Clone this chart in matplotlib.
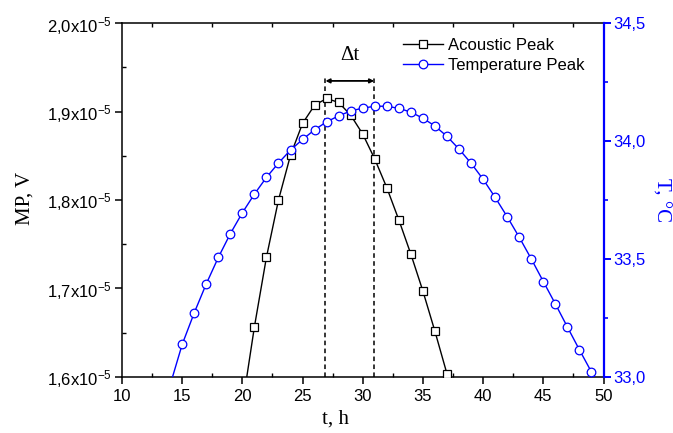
import matplotlib
matplotlib.use("Agg")
import matplotlib.pyplot as plt
from matplotlib.ticker import MultipleLocator, FuncFormatter

plt.rcParams['font.family'] = ['Liberation Sans', 'DejaVu Sans']
plt.rcParams['mathtext.fontset'] = 'custom'
plt.rcParams['mathtext.rm'] = 'Liberation Sans'
plt.rcParams['mathtext.it'] = 'Liberation Sans:italic'

# ---- data ----
acoustic_t = [20, 21, 22, 23, 24, 25, 26, 27, 28, 29, 30, 31, 32, 33, 34, 35, 36, 37]
acoustic_mp = [1.567e-5, 1.6565e-5, 1.7353e-5, 1.800e-5, 1.8508e-5, 1.8867e-5, 1.9073e-5,
               1.9149e-5, 1.9104e-5, 1.896e-5, 1.8746e-5, 1.8463e-5, 1.8139e-5, 1.7774e-5,
               1.7386e-5, 1.6968e-5, 1.6512e-5, 1.6031e-5]

temp_t = [14, 15, 16, 17, 18, 19, 20, 21, 22, 23, 24, 25, 26, 27, 28, 29, 30, 31, 32,
          33, 34, 35, 36, 37, 38, 39, 40, 41, 42, 43, 44, 45, 46, 47, 48, 49, 50]
temp_c = [32.965, 33.137, 33.271, 33.394, 33.506, 33.607, 33.696, 33.775, 33.846, 33.907,
          33.962, 34.007, 34.048, 34.082, 34.107, 34.128, 34.140, 34.148, 34.148, 34.139,
          34.123, 34.097, 34.064, 34.020, 33.966, 33.906, 33.838, 33.761, 33.679, 33.592,
          33.500, 33.404, 33.309, 33.211, 33.114, 33.020, 32.92]

delta_t_start = 26.9
delta_t_end = 30.95
delta_top = 1.940e-5
arrow_y = 1.9348e-5

series_labels = ["Acoustic Peak", "Temperature Peak"]
x_label = "t, h"
y_label = "MP, V"
y2_label = "T, °C"
delta_label = "Δt"

BLUE = "#0000ff"

fig = plt.figure(figsize=(6.73, 4.33), dpi=100)
ax = fig.add_axes([122/673, 1 - 376.7/433, (603.5 - 122)/673, (376.7 - 23.3)/433])
ax2 = ax.twinx()

l1, = ax.plot(acoustic_t, acoustic_mp, color='black', lw=1.0, marker='s', ms=5.2,
              mfc='white', mec='black', mew=0.9, zorder=3)
l2, = ax2.plot(temp_t, temp_c, color=BLUE, lw=1.0, marker='o', ms=6.2,
               mfc='white', mec=BLUE, mew=0.9, zorder=3)

ax.set_xlim(10, 50)
ax.set_ylim(1.6e-5, 2.0e-5)
ax2.set_ylim(33.0, 34.5)

# delta t annotation
for xv in (delta_t_start, delta_t_end):
    ax.plot([xv, xv], [1.6e-5, delta_top], ls=(0, (3, 2.2)), color='black', lw=1.1, zorder=2)
ax.annotate('', xy=(delta_t_start, arrow_y), xytext=(delta_t_end, arrow_y),
            arrowprops=dict(arrowstyle='<|-|>', color='black', lw=1.3,
                            mutation_scale=6, shrinkA=0, shrinkB=0))
ax.text((delta_t_start + delta_t_end) / 2, 1.9635e-5, delta_label, ha='center', va='center',
        fontsize=15, family='Liberation Serif')

# ticks
ax.xaxis.set_major_locator(MultipleLocator(5))
ax.xaxis.set_minor_locator(MultipleLocator(2.5))
ax.yaxis.set_major_locator(MultipleLocator(0.1e-5))
ax.yaxis.set_minor_locator(MultipleLocator(0.05e-5))
ax2.yaxis.set_major_locator(MultipleLocator(0.5))
ax2.yaxis.set_minor_locator(MultipleLocator(0.25))

def fmt_left(v, pos):
    s = f"{v*1e5:.1f}".replace('.', ',')
    return s + r'x10$^{\mathregular{-5}}$'

ax.yaxis.set_major_formatter(FuncFormatter(fmt_left))
ax2.yaxis.set_major_formatter(FuncFormatter(lambda v, p: f"{v:.1f}".replace('.', ',')))
ax.xaxis.set_major_formatter(FuncFormatter(lambda v, p: f"{v:.0f}"))

ax.tick_params(axis='both', which='major', direction='out', length=5, width=1.1,
               labelsize=12, pad=2)
ax.tick_params(axis='both', which='minor', direction='in', length=3, width=1.0)
ax.tick_params(axis='x', which='minor', top=True)
ax.tick_params(axis='x', which='major', pad=4)
ax2.tick_params(axis='y', which='major', direction='out', length=5, width=1.4,
                colors=BLUE, labelsize=12, pad=2)
ax2.tick_params(axis='y', which='minor', direction='out', length=3, width=1.2, colors=BLUE)

for s in ('left', 'bottom', 'top'):
    ax.spines[s].set_linewidth(1.1)
ax.spines['right'].set_visible(False)
for s in ('left', 'bottom', 'top'):
    ax2.spines[s].set_visible(False)
ax2.spines['right'].set_color(BLUE)
ax2.spines['right'].set_linewidth(1.6)

# labels
fig.text(25/673, 1 - 198/433, y_label, rotation=90, ha='center', va='center',
         fontsize=15, family='Liberation Serif')
fig.text(335/673, 1 - 419/433, x_label, ha='center', va='center',
         fontsize=15, family='Liberation Serif')
fig.text(661/673, 1 - 200/433, y2_label, rotation=-90, ha='center', va='center',
         fontsize=15, family='Liberation Serif', color=BLUE)

ax2.legend([l1, l2], series_labels, loc='upper left',
           bbox_to_anchor=(403/673, 1 - 38/433), bbox_transform=fig.transFigure,
           frameon=False, fontsize=12, handlelength=2.4, handletextpad=0.3,
           borderpad=0, borderaxespad=0, labelspacing=0.3)

fig.savefig("out.png", dpi=100)
